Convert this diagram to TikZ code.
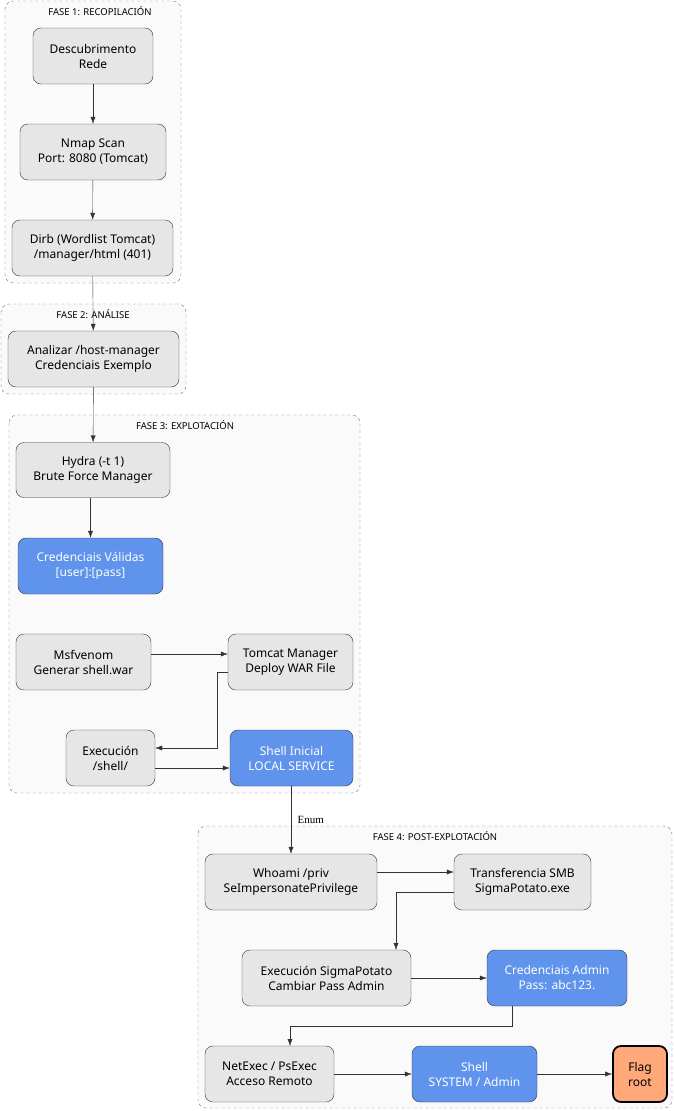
\documentclass[tikz,border=0pt]{standalone}
\usepackage{fontspec}
\setmainfont{Noto Sans}
\newfontfamily\serifface{Liberation Serif}
\usetikzlibrary{arrows.meta}
\definecolor{gfill}{HTML}{E6E6E6}
\definecolor{bfill}{HTML}{5F93EC}
\definecolor{ofill}{HTML}{FFA97A}
\definecolor{phfill}{HTML}{FAFAFA}
\begin{document}
\begin{tikzpicture}[x=1pt,y=-1pt,
  n/.style={draw=black!80,fill=gfill,rounded corners=8pt,align=center,font=\fontsize{12}{15}\selectfont,inner sep=0pt},
  b/.style={n,fill=bfill,text=white},
  o/.style={n,fill=ofill,line width=1.8pt,draw=black},
  ph/.style={draw=black!55,dashed,fill=phfill,rounded corners=8pt},
  pt/.style={font=\fontsize{9.5}{11}\selectfont,anchor=center},
  e/.style={draw=black!80,-{Latex[length=7pt,width=5pt]}}]
\useasboundingbox (0,0) rectangle (674,1111);
\draw[ph] (5,1) rectangle (181,283);
\node[pt] at (100,11) {FASE 1: RECOPILACIÓN};
\draw[ph] (1,304) rectangle (186,394);
\node[pt] at (93,314) {FASE 2: ANÁLISE};
\draw[ph] (9,415) rectangle (360,793);
\node[pt] at (185,425) {FASE 3: EXPLOTACIÓN};
\draw[ph] (198,826) rectangle (672,1108);
\node[pt] at (435,836) {FASE 4: POST-EXPLOTACIÓN};

\node[n,minimum width=120,minimum height=56] (d) at (93,56) {Descubrimento\\Rede};
\node[n,minimum width=146,minimum height=56] (nm) at (93,152) {Nmap Scan\\Port: 8080 (Tomcat)};
\node[n,minimum width=161,minimum height=56] (di) at (92.5,248) {Dirb (Wordlist Tomcat)\\/manager/html (401)};
\node[n,minimum width=171,minimum height=56] (an) at (93.5,359) {Analizar /host-manager\\Credenciais Exemplo};
\node[n,minimum width=154,minimum height=55] (hy) at (93,470) {Hydra (-t 1)\\Brute Force Manager};
\node[b,minimum width=145,minimum height=56] (cv) at (90.5,566) {Credenciais Válidas\\{[user]:[pass]}};
\node[n,minimum width=135,minimum height=56] (ms) at (83.5,662) {Msfvenom\\Generar shell.war};
\node[n,minimum width=125,minimum height=56] (tm) at (290.5,662) {Tomcat Manager\\Deploy WAR File};
\node[n,minimum width=89,minimum height=56] (ex) at (110.5,758) {Execución\\/shell/};
\node[b,minimum width=123,minimum height=56] (si) at (291.5,758) {Shell Inicial\\LOCAL SERVICE};
\node[n,minimum width=172,minimum height=56] (wh) at (291,882) {Whoami /priv\\SeImpersonatePrivilege};
\node[n,minimum width=137,minimum height=56] (ts) at (522.5,882) {Transferencia SMB\\SigmaPotato.exe};
\node[n,minimum width=169,minimum height=56] (es) at (326.5,978) {Execución SigmaPotato\\Cambiar Pass Admin};
\node[b,minimum width=140,minimum height=56] (ca) at (557,978) {Credenciais Admin\\Pass: abc123.};
\node[n,minimum width=129,minimum height=56] (ne) at (269.5,1074) {NetExec / PsExec\\Acceso Remoto};
\node[b,minimum width=125,minimum height=56] (ss) at (474.5,1074) {Shell\\SYSTEM / Admin};
\node[o,minimum width=54,minimum height=56] (fl) at (640,1074) {Flag\\root};

\draw[e] (d) -- (nm);
\draw[e] (nm) -- (di);
\draw[e] (di) -- (an);
\draw[e] (an) -- (hy);
\draw[e] (hy.south -| cv) -- (cv);
\draw[e] (ms.east |- 0,654) -- (tm.west |- 0,654);
\draw[e] (tm.west |- 0,672) -| (217,748) -- (ex.east |- 0,748);
\draw[e] (ex.east |- 0,768) -- (si.west |- 0,768);
\draw[e] (si.south -| wh) -- node[right,font=\serifface\fontsize{11}{13}\selectfont,xshift=3pt]{Enum} (wh);
\draw[e] (wh.east |- 0,872) -- (ts.west |- 0,872);
\draw[e] (ts.west |- 0,892) -| (396,892) -- (396,950);
\draw[e] (es.east |- 0,978) -- (ca.west |- 0,978);
\draw[e] (512,1006) -- (512,1026) -- (290,1026) -- (290,1046);
\draw[e] (ne) -- (ss);
\draw[e] (ss) -- (fl);
\end{tikzpicture}
\end{document}
